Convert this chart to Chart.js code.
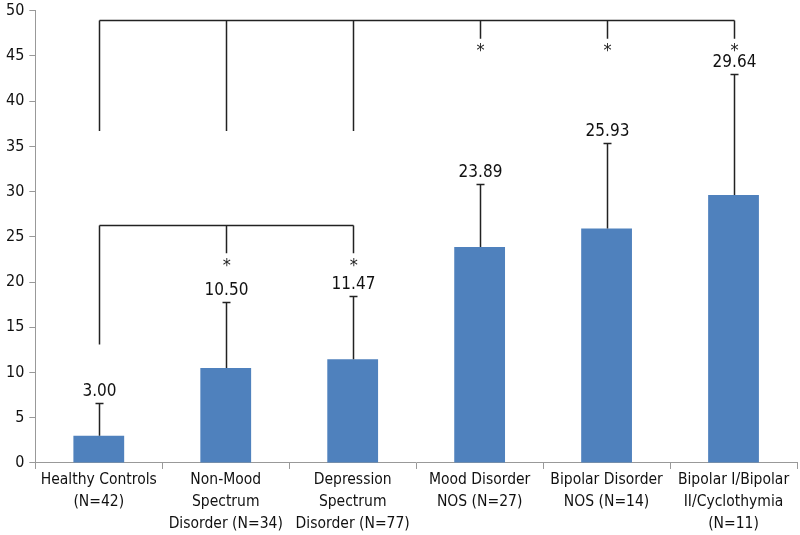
<!DOCTYPE html>
<html>
<head>
<meta charset="utf-8">
<script src="https://cdn.jsdelivr.net/npm/chart.js@4"></script>
<style>
  html, body { margin: 0; padding: 0; background: #fff; }
  #wrap { width: 800px; height: 535px; }
</style>
</head>
<body>
<div id="wrap"><canvas id="grafica"></canvas></div>
<script>
const categorias = [
  ['Healthy Controls', '(N=42)'],
  ['Non-Mood', 'Spectrum', 'Disorder (N=34)'],
  ['Depression', 'Spectrum', 'Disorder (N=77)'],
  ['Mood Disorder', 'NOS (N=27)'],
  ['Bipolar Disorder', 'NOS (N=14)'],
  ['Bipolar I/Bipolar', 'II/Cyclothymia', '(N=11)']
];
const medias = [3.00, 10.50, 11.47, 23.89, 25.93, 29.64];
const errorSuperior = [6.6, 17.8, 18.5, 30.8, 35.35, 43.0];
const ticksY = [0, 5, 10, 15, 20, 25, 30, 35, 40, 45, 50];

// comparaciones: nivel de la barra horizontal, hasta dónde baja cada rama, y si lleva asterisco
const comparacionArriba = { nivel: 49, ramas: [36.7, 36.7, 36.7, 46.9, 46.9, 46.9], asterisco: [false, false, false, true, true, true] };
const comparacionAbajo = { nivel: 26.3, ramas: [13.1, 23.2, 23.2], asterisco: [false, true, true] };

const fuente = "'Liberation Sans Narrow', 'DejaVu Sans Condensed', sans-serif";

const extras = {
  id: 'extras',
  afterDatasetsDraw(chart) {
    const c = chart.ctx;
    const x = chart.scales.x, y = chart.scales.y;
    c.save();
    c.strokeStyle = '#222';
    c.lineWidth = 1.5;
    // barras de error
    medias.forEach((m, i) => {
      const px = Math.round(x.getPixelForValue(i)) + 0.5;
      const y0 = y.getPixelForValue(m);
      const y1 = Math.round(y.getPixelForValue(errorSuperior[i])) + 0.5;
      c.beginPath();
      c.moveTo(px, y0); c.lineTo(px, y1);
      c.moveTo(px - 4, y1); c.lineTo(px + 4, y1);
      c.stroke();
      c.fillStyle = '#111';
      c.font = '17px ' + fuente;
      c.textAlign = 'center';
      c.textBaseline = 'bottom';
      c.fillText(m.toFixed(2), px, y1 - 3);
    });
    // corchetes
    [comparacionArriba, comparacionAbajo].forEach(comp => {
      const n = comp.ramas.length;
      const yn = Math.round(y.getPixelForValue(comp.nivel)) + 0.5;
      const xa = Math.round(x.getPixelForValue(0)) + 0.5;
      const xb = Math.round(x.getPixelForValue(n - 1)) + 0.5;
      c.beginPath();
      c.moveTo(xa, yn); c.lineTo(xb, yn);
      comp.ramas.forEach((r, i) => {
        const px = Math.round(x.getPixelForValue(i)) + 0.5;
        c.moveTo(px, yn); c.lineTo(px, y.getPixelForValue(r));
      });
      c.stroke();
      c.fillStyle = '#222';
      c.font = '18px ' + fuente;
      c.textAlign = 'center';
      c.textBaseline = 'middle';
      comp.ramas.forEach((r, i) => {
        if (comp.asterisco[i]) {
          const px = x.getPixelForValue(i);
          c.fillText('*', px + 1, y.getPixelForValue(r) + 13);
        }
      });
    });
    c.restore();
  }
};

new Chart(document.getElementById('grafica'), {
  type: 'bar',
  data: {
    labels: categorias,
    datasets: [{
      data: medias,
      backgroundColor: '#4F81BD',
      borderWidth: 0,
      categoryPercentage: 1,
      barPercentage: 0.4
    }]
  },
  options: {
    responsive: true,
    maintainAspectRatio: false,
    animation: false,
    layout: { padding: { top: 0, right: 3, left: 1, bottom: 0 } },
    scales: {
      x: {
        grid: { drawOnChartArea: false, offset: true, color: '#999', tickLength: 6 },
        border: { color: '#999', width: 1 },
        ticks: {
          color: '#111', autoSkip: false, maxRotation: 0, padding: 0,
          font: { family: fuente, size: 15.5, lineHeight: 1.42 }
        }
      },
      y: {
        min: 0, max: 50,
        afterBuildTicks: scale => { scale.ticks = ticksY.map(v => ({ value: v })); },
        grid: { drawOnChartArea: false, color: '#999', tickLength: 6 },
        border: { color: '#999', width: 1 },
        ticks: { color: '#111', padding: 5, font: { family: fuente, size: 16, lineHeight: 0.72 } }
      }
    },
    plugins: {
      legend: { display: false },
      tooltip: { enabled: false }
    }
  },
  plugins: [extras]
});
</script>
</body>
</html>
